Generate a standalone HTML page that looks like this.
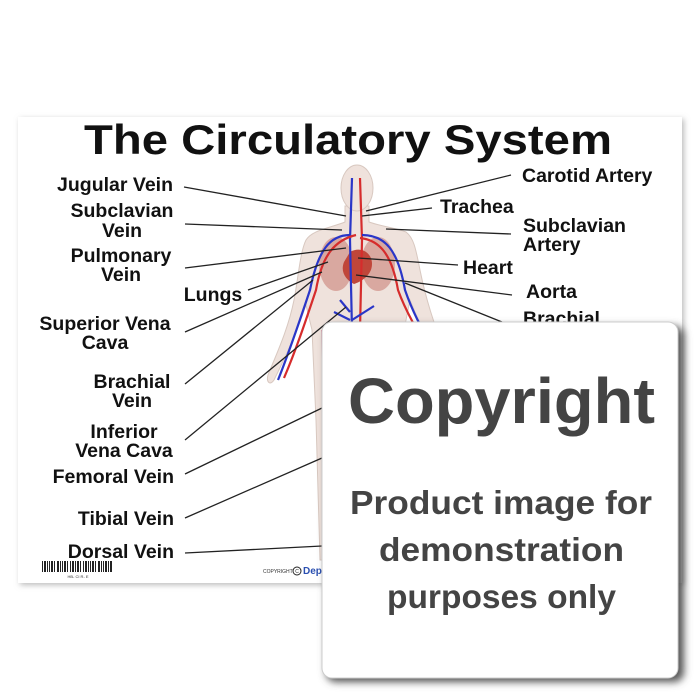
<!DOCTYPE html>
<html><head><style>
html,body{margin:0;padding:0;background:#fff;}
body{width:700px;height:700px;position:relative;overflow:hidden;font-family:"Liberation Sans",sans-serif;}
</style></head><body>
<svg width="700" height="700" viewBox="0 0 700 700" xmlns="http://www.w3.org/2000/svg" style="position:absolute;left:0;top:0">
<defs>
<filter id="sh" x="-10%" y="-10%" width="130%" height="130%"><feGaussianBlur stdDeviation="3"/></filter>
<filter id="sh2" x="-10%" y="-10%" width="130%" height="130%"><feGaussianBlur stdDeviation="4"/></filter>
</defs>
<rect x="20" y="119" width="664" height="466" fill="#bbb" filter="url(#sh)"/>
<rect x="18" y="117" width="664" height="466" fill="#fff"/>
<text x="84" y="154" font-size="42" font-weight="bold" fill="#111" textLength="528" lengthAdjust="spacingAndGlyphs">The Circulatory System</text>

<!-- body figure -->
<g>
<path d="M345 206 L345 222 C330 228 312 230 306 240 C300 252 298 280 294 300 C288 330 276 355 268 375 C266 382 270 386 274 380 C284 360 296 335 306 305 L312 330 L316 420 L320 560 L348 560 L352 430 L358 400 L364 430 L368 560 L396 560 L400 420 L404 330 L410 300 C418 320 430 345 440 360 C444 364 448 360 446 354 C436 330 426 300 420 270 C416 250 414 238 406 232 C396 228 380 226 369 222 L369 206 Z" fill="#efe2dc" stroke="#d8c8c0" stroke-width="1"/>
<ellipse cx="357" cy="188" rx="16" ry="23" fill="#efe2dc" stroke="#d8c8c0" stroke-width="1"/>
<ellipse cx="336" cy="264" rx="17" ry="27" fill="#d9a8a0"/>
<ellipse cx="378" cy="264" rx="17" ry="27" fill="#d9a8a0"/>
<path d="M350 252 c10 -6 22 0 22 12 c0 12 -12 18 -18 20 c-8 -4 -14 -12 -10 -22z" fill="#c0463a"/>
<g fill="none" stroke-width="2.2">
<path d="M352 178 L350 240 L352 330 L348 480" stroke="#2a36c8"/>
<path d="M360 178 L362 240 L360 330 L362 480" stroke="#d62c2c"/>
<path d="M350 235 C330 235 318 250 310 290 C300 320 290 350 278 380" stroke="#2a36c8"/>
<path d="M356 235 C335 240 322 255 316 290 C306 320 296 350 284 378" stroke="#d62c2c"/>
<path d="M362 235 C385 235 398 250 405 290 C412 310 422 330 432 345" stroke="#2a36c8"/>
<path d="M360 238 C380 240 392 255 398 290 C406 312 418 332 428 348" stroke="#d62c2c"/>
<path d="M350 320 L334 312 M352 320 L374 306 M350 312 L340 300" stroke="#2a36c8"/>
<path d="M322 330 L324 560 M330 330 L328 560" stroke="#c04a6a" stroke-width="1.5"/>
</g>
</g>

<g stroke="#222" stroke-width="1.3">
<line x1="184" y1="187" x2="346" y2="216"/>
<line x1="185" y1="224" x2="342" y2="230"/>
<line x1="185" y1="268" x2="346" y2="248"/>
<line x1="248" y1="290" x2="328" y2="262"/>
<line x1="185" y1="332" x2="322" y2="272"/>
<line x1="185" y1="384" x2="313" y2="280"/>
<line x1="185" y1="440" x2="346" y2="307"/>
<line x1="185" y1="474" x2="322" y2="408"/>
<line x1="185" y1="518" x2="322" y2="458"/>
<line x1="185" y1="553" x2="322" y2="546"/>
<line x1="511" y1="175" x2="366" y2="211"/>
<line x1="432" y1="208" x2="362" y2="216"/>
<line x1="511" y1="234" x2="386" y2="229"/>
<line x1="458" y1="265" x2="358" y2="258"/>
<line x1="512" y1="295" x2="356" y2="275"/>
<line x1="502" y1="322" x2="405" y2="283"/>
</g>

<g font-size="19.5" font-weight="bold" fill="#111">
<text x="173" y="191" text-anchor="end">Jugular Vein</text>
<text x="122" y="217" text-anchor="middle">Subclavian</text>
<text x="122" y="237" text-anchor="middle">Vein</text>
<text x="121" y="262" text-anchor="middle">Pulmonary</text>
<text x="121" y="281" text-anchor="middle">Vein</text>
<text x="213" y="301" text-anchor="middle">Lungs</text>
<text x="105" y="330" text-anchor="middle">Superior Vena</text>
<text x="105" y="349" text-anchor="middle">Cava</text>
<text x="132" y="388" text-anchor="middle">Brachial</text>
<text x="132" y="407" text-anchor="middle">Vein</text>
<text x="124" y="438" text-anchor="middle">Inferior</text>
<text x="124" y="457" text-anchor="middle">Vena Cava</text>
<text x="174" y="483" text-anchor="end">Femoral Vein</text>
<text x="174" y="525" text-anchor="end">Tibial Vein</text>
<text x="174" y="558" text-anchor="end">Dorsal Vein</text>
<text x="522" y="182">Carotid Artery</text>
<text x="440" y="213">Trachea</text>
<text x="523" y="232">Subclavian</text>
<text x="523" y="251">Artery</text>
<text x="463" y="274">Heart</text>
<text x="526" y="298">Aorta</text>
<text x="523" y="325">Brachial</text>
</g>

<g fill="#222">
<rect x="42" y="561" width="1" height="11"/><rect x="44" y="561" width="2" height="11"/><rect x="47" y="561" width="1" height="11"/><rect x="49" y="561" width="1" height="11"/><rect x="51" y="561" width="2" height="11"/><rect x="54" y="561" width="1" height="11"/><rect x="57" y="561" width="2" height="11"/><rect x="60" y="561" width="1" height="11"/><rect x="62" y="561" width="1" height="11"/><rect x="64" y="561" width="2" height="11"/><rect x="67" y="561" width="1" height="11"/><rect x="70" y="561" width="1" height="11"/><rect x="72" y="561" width="2" height="11"/><rect x="75" y="561" width="1" height="11"/><rect x="77" y="561" width="2" height="11"/><rect x="80" y="561" width="1" height="11"/><rect x="83" y="561" width="1" height="11"/><rect x="85" y="561" width="2" height="11"/><rect x="88" y="561" width="1" height="11"/><rect x="90" y="561" width="1" height="11"/><rect x="92" y="561" width="2" height="11"/><rect x="95" y="561" width="1" height="11"/><rect x="98" y="561" width="2" height="11"/><rect x="101" y="561" width="1" height="11"/><rect x="103" y="561" width="1" height="11"/><rect x="105" y="561" width="2" height="11"/><rect x="108" y="561" width="1" height="11"/><rect x="110" y="561" width="2" height="11"/>
</g>
<text x="78" y="578" font-size="4" text-anchor="middle" fill="#333">HB- CI R- E</text>
<text x="263" y="573" font-size="5" fill="#333">COPYRIGHT</text>
<circle cx="297" cy="571" r="4" fill="none" stroke="#222" stroke-width="1"/>
<text x="297" y="573" font-size="5" text-anchor="middle" fill="#222">C</text>
<text x="303" y="574" font-size="10" font-weight="bold" fill="#2a4fb0">Dep</text>

<rect x="326" y="326" width="358" height="356" rx="10" fill="#555" filter="url(#sh2)"/>
<rect x="322" y="322" width="356" height="356" rx="10" fill="#fff" stroke="#ccc" stroke-width="1"/>
<g fill="#444" font-weight="bold">
<text x="348" y="423" font-size="64" textLength="307" lengthAdjust="spacingAndGlyphs">Copyright</text>
<text x="350" y="514" font-size="33" textLength="302" lengthAdjust="spacingAndGlyphs">Product image for</text>
<text x="379" y="561" font-size="33" textLength="245" lengthAdjust="spacingAndGlyphs">demonstration</text>
<text x="387" y="608" font-size="33" textLength="229" lengthAdjust="spacingAndGlyphs">purposes only</text>
</g>
</svg>
</body></html>
